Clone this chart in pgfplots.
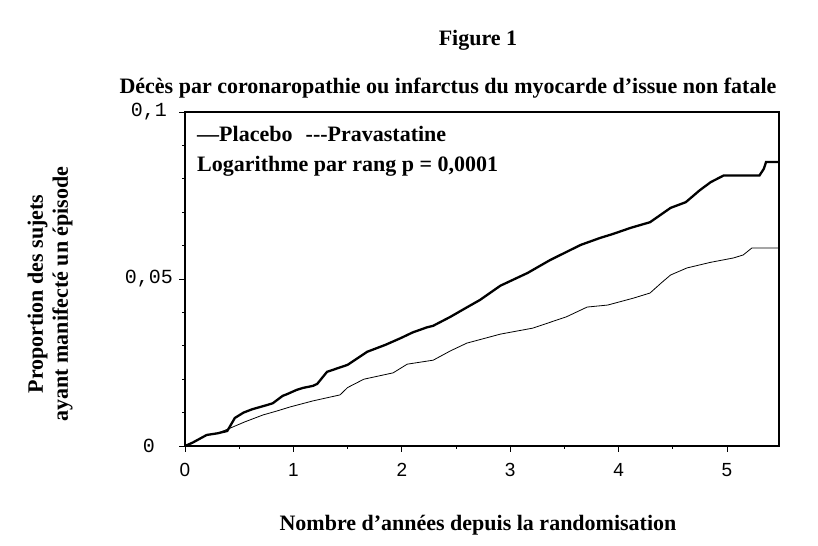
\documentclass[border=0pt]{standalone}
\usepackage{fontspec}
\setmainfont{Liberation Serif}
\newfontfamily\monofont{Liberation Mono}
\newfontfamily\sansfont{Liberation Sans}
\usepackage{pgfplots}
\pgfplotsset{compat=1.18}
\pgfplotstableread{
x y
0 0
0.07 0.0010
0.20 0.0033
0.30 0.0038
0.39 0.0045
0.46 0.0084
0.54 0.0100
0.62 0.0110
0.76 0.0123
0.81 0.0128
0.90 0.0150
0.94 0.0155
1.03 0.0168
1.09 0.0174
1.18 0.0180
1.22 0.0186
1.31 0.0222
1.50 0.0243
1.68 0.0282
1.85 0.0303
1.99 0.0323
2.10 0.0340
2.23 0.0355
2.29 0.0360
2.45 0.0387
2.60 0.0415
2.72 0.0437
2.91 0.0480
3.16 0.0518
3.37 0.0557
3.65 0.0602
3.83 0.0623
3.95 0.0635
4.11 0.0653
4.29 0.0670
4.48 0.0713
4.62 0.0730
4.75 0.0766
4.85 0.0790
4.97 0.0810
5.30 0.0810
5.34 0.0830
5.36 0.0850
5.48 0.0850
}\placebo
\pgfplotstableread{
x y
0 0
0.07 0.0010
0.20 0.0033
0.30 0.0038
0.42 0.0054
0.55 0.0072
0.72 0.0093
0.85 0.0105
0.97 0.0117
1.18 0.0135
1.43 0.0153
1.50 0.0175
1.65 0.0200
1.92 0.0219
2.05 0.0245
2.29 0.0257
2.45 0.0285
2.60 0.0308
2.91 0.0335
3.21 0.0353
3.52 0.0387
3.71 0.0416
3.90 0.0422
4.14 0.0443
4.29 0.0458
4.40 0.0490
4.48 0.0512
4.63 0.0533
4.85 0.0550
5.06 0.0563
5.15 0.0572
5.23 0.0593
5.48 0.0593
}\prava
\begin{document}
\begin{tikzpicture}
\path[use as bounding box] (0bp,0bp) rectangle (818bp,546bp);
\begin{axis}[
  at={(185bp,100bp)}, anchor=south west,
  scale only axis, width=594bp, height=334bp,
  xmin=0, xmax=5.48, ymin=0, ymax=0.1,
  axis line style={line width=1.2pt},
  /pgf/number format/assume math mode=true,
  xtick={0,1,2,3,4,5},
  minor xtick={0.5,1.5,2.5,3.5,4.5},
  ytick={0,0.05,0.1},
  yticklabels={0,{0,05},{0,1}},
  minor ytick={0.01,0.02,0.03,0.04,0.06,0.07,0.08,0.09},
  xtick pos=bottom, ytick pos=left,
  tick align=outside,
  major tick length=6bp, minor tick length=3bp,
  every tick/.style={black, line width=0.8pt},
  scaled y ticks=false,
  xticklabel style={font=\fontsize{19bp}{22bp}\sansfont, yshift=-8bp},
  yticklabel style={font=\fontsize{20bp}{23bp}\monofont, anchor=center, xshift=-30bp},
]
\addplot[black, line width=2.3bp] table[x=x,y=y] {\placebo};
\addplot[black, line width=0.8bp] table[x=x,y=y] {\prava};
\end{axis}
\node[font=\fontsize{22bp}{26bp}\selectfont\bfseries] at (478bp,506bp) {Figure 1};
\node[font=\fontsize{22bp}{26bp}\selectfont\bfseries] at (448bp,458bp) {Décès par coronaropathie ou infarctus du myocarde d’issue non fatale};
\node[font=\fontsize{22bp}{26bp}\selectfont\bfseries] at (478bp,21bp) {Nombre d’années depuis la randomisation};
\node[font=\fontsize{22bp}{25bp}\selectfont\bfseries, rotate=90, align=center] at (50bp,252bp) {Proportion des sujets\\ayant manifecté un épisode};
\node[font=\fontsize{22bp}{26bp}\selectfont\bfseries, anchor=base west, inner sep=0pt] at (197bp,404bp) {\textemdash Placebo\hspace{0.6em}-{}-{}-Pravastatine};
\node[font=\fontsize{22bp}{26bp}\selectfont\bfseries, anchor=base west, inner sep=0pt] at (197bp,374bp) {Logarithme par rang p = 0,0001};
\end{tikzpicture}
\end{document}
